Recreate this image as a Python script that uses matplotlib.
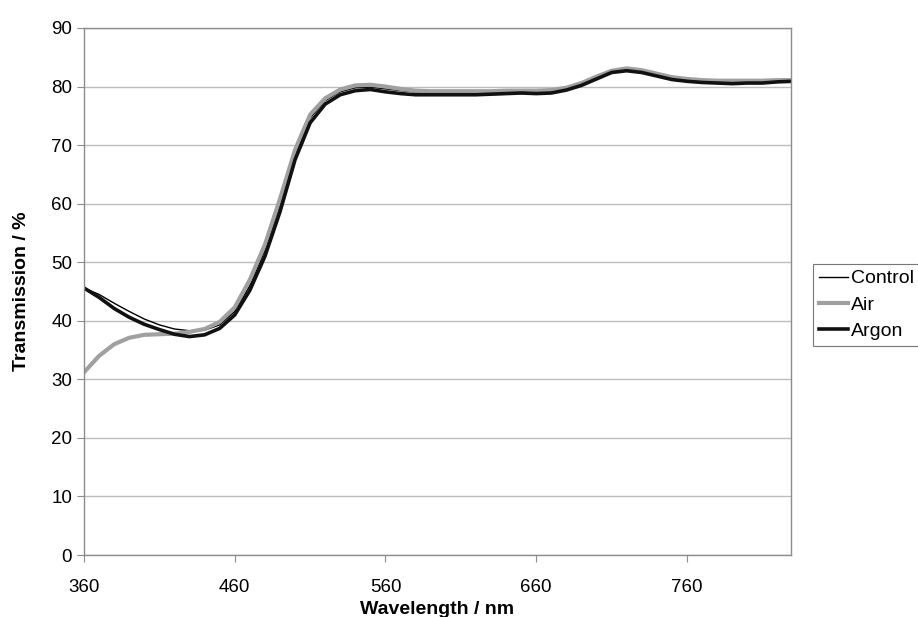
import numpy as np
import matplotlib
matplotlib.use("Agg")
import matplotlib.pyplot as plt

plt.rcParams['font.family'] = ['Liberation Sans', 'DejaVu Sans']

wavelength = np.arange(360, 831, 10)

control = [45.6, 44.5, 43.0, 41.6, 40.3, 39.3, 38.6, 38.3, 38.4, 39.3,
           41.6, 46.0, 52.0, 59.8, 68.2, 74.6, 77.6, 79.1, 79.8, 79.9,
           79.6, 79.3, 79.1, 79.0, 79.0, 79.0, 79.0, 79.1, 79.2, 79.3,
           79.3, 79.4, 79.8, 80.5, 81.6, 82.6, 83.0, 82.7, 82.1, 81.5,
           81.2, 81.1, 81.0, 81.0, 81.0, 81.1, 81.1, 81.2]
air = [31.2, 34.0, 36.0, 37.1, 37.6, 37.7, 37.8, 38.1, 38.6, 39.8,
       42.3, 47.0, 53.0, 60.8, 69.2, 75.2, 78.0, 79.5, 80.2, 80.3,
       80.0, 79.6, 79.3, 79.2, 79.2, 79.2, 79.2, 79.2, 79.3, 79.3,
       79.3, 79.4, 79.8, 80.6, 81.7, 82.7, 83.1, 82.8, 82.2, 81.6,
       81.3, 81.1, 81.0, 81.0, 81.0, 81.0, 81.1, 81.1]
argon = [45.6, 44.0, 42.1, 40.6, 39.4, 38.5, 37.7, 37.3, 37.6, 38.7,
         41.0, 45.2, 51.0, 58.6, 67.5, 73.8, 77.0, 78.6, 79.3, 79.5,
         79.1, 78.8, 78.6, 78.6, 78.6, 78.6, 78.6, 78.7, 78.8, 78.9,
         78.8, 78.9, 79.4, 80.2, 81.3, 82.4, 82.7, 82.4, 81.8, 81.2,
         80.9, 80.7, 80.6, 80.5, 80.6, 80.6, 80.8, 80.9]

x_ticks = [360, 460, 560, 660, 760]
y_ticks = np.arange(0, 91, 10)

fig = plt.figure(figsize=(9.18, 6.17), dpi=100)
ax = fig.add_axes([84 / 918, 62 / 617, 707 / 918, 527 / 617])

ax.plot(wavelength, control, color='black', lw=1.0, label='Control')
ax.plot(wavelength, air, color='#a0a0a0', lw=3.0, label='Air')
ax.plot(wavelength, argon, color='#111111', lw=2.6, label='Argon')

ax.set_xlim(360, 829)
ax.set_ylim(0, 90)
ax.set_xticks(x_ticks)
ax.set_yticks(y_ticks)
ax.grid(axis='y', color='#bdbdbd', lw=1.0)
ax.set_axisbelow(True)
for s in ax.spines.values():
    s.set_color('#8c8c8c')
    s.set_linewidth(1.0)
ax.tick_params(axis='both', colors='#8c8c8c', labelcolor='black',
               labelsize=13.5, length=5, direction='out')
ax.tick_params(axis='x', pad=12)

ax.set_xlabel('Wavelength / nm', fontsize=14, fontweight='bold', labelpad=4)
ax.set_ylabel('Transmission / %', fontsize=14, fontweight='bold', labelpad=15)

leg = ax.legend(loc='center left', bbox_to_anchor=(813 / 918, 1 - 305 / 617),
                bbox_transform=fig.transFigure, fontsize=14, frameon=True,
                fancybox=False, edgecolor='#555555', handlelength=1.5,
                handletextpad=0.15, borderpad=0.3, labelspacing=0.45,
                borderaxespad=0)
leg.get_frame().set_linewidth(0.8)

fig.savefig('out.png', dpi=100, facecolor='white')
